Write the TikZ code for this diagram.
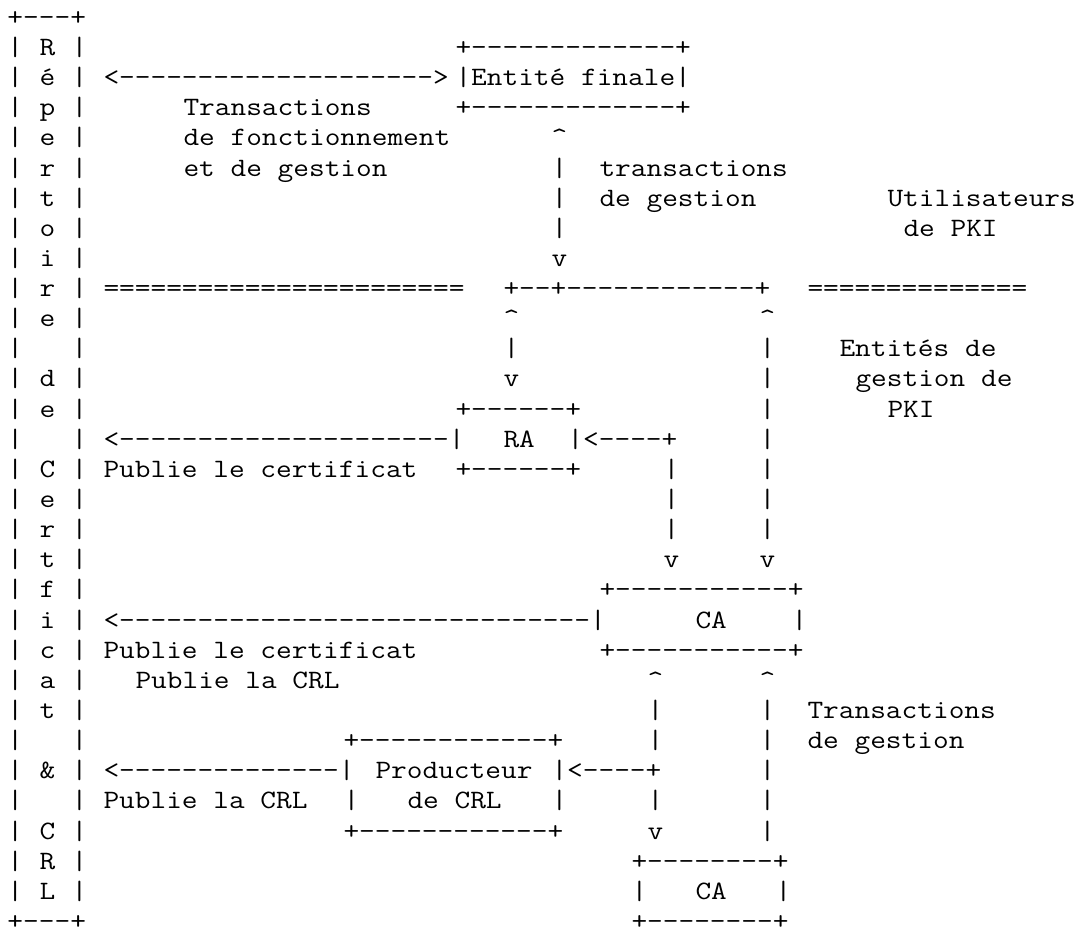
\documentclass[tikz,border=0pt]{standalone}
\usepackage{fontspec}
\ExplSyntaxOn
\cs_new:Npn \myrep #1#2 { \prg_replicate:nn {#1} {#2\kern0pt} }
\ExplSyntaxOff
\newcommand\upa{\char"5E\relax}
\tikzset{txt/.style={inner sep=0pt, outer sep=0pt, anchor=base west, text depth=0pt,
  font=\ttfamily\fontsize{26.5}{30}\selectfont, text=black}}
% #1 name, #2 column, #3 line, #4 text
\newcommand\asc[4]{\node[txt] (#1) at ({7.5+#2*16},{-(25.3+(#3-1)*30.14)}) {\scalebox{1.15}[1]{#4}};}
\begin{document}
\begin{tikzpicture}[x=1pt,y=1pt]
\fill[white] (0,0) rectangle (1080,-930);
\useasboundingbox (0,0) rectangle (1080,-930);
% Repertoire column
\asc{reptop}{0}{1}{+\myrep{3}{-}+}
\foreach \l in {2,...,30} {\asc{repl\l}{0}{\l}{|}\asc{repr\l}{4}{\l}{|}}
\foreach \l/\c in {2/R,3/é,4/p,5/e,6/r,7/t,8/o,9/i,10/r,11/e,13/d,14/e,16/C,17/e,18/r,19/t,20/f,21/i,22/c,23/a,24/t,26/\&,28/C,29/R,30/L}
  {\asc{repc\l}{2}{\l}{\c}}
\asc{repbot}{0}{31}{+\myrep{3}{-}+}
% Entite finale
\asc{efT}{28}{2}{+\myrep{13}{-}+}
\asc{a1}{6}{3}{<\myrep{20}{-}>}
\asc{ef}{28}{3}{|Entité~finale|}
\asc{efB}{28}{4}{+\myrep{13}{-}+}
\asc{tr1}{11}{4}{Transactions}
\asc{tr2}{11}{5}{de~fonctionnement}
\asc{tr3}{11}{6}{et~de~gestion}
\asc{up1}{34}{5}{\upa}
\foreach \l in {6,7,8} {\asc{va\l}{34}{\l}{|}}
\asc{dn1}{34}{9}{v}
\asc{tg1}{37}{6}{transactions}
\asc{tg2}{37}{7}{de~gestion}
\asc{u1}{55}{7}{Utilisateurs}
\asc{u2}{56}{8}{de~PKI}
% separator
\asc{eqL}{6}{10}{\myrep{23}{=}}
\asc{bar}{31}{10}{+\myrep{2}{-}+\myrep{12}{-}+}
\asc{eqR}{50}{10}{\myrep{14}{=}}
\asc{up2}{31}{11}{\upa}
\asc{up3}{47}{11}{\upa}
\asc{vb12}{31}{12}{|}
\asc{dn2}{31}{13}{v}
\foreach \l in {12,...,18} {\asc{vc\l}{47}{\l}{|}}
\asc{dn3}{47}{19}{v}
\asc{m1}{52}{12}{Entités~de}
\asc{m2}{53}{13}{gestion~de}
\asc{m3}{55}{14}{PKI}
% RA
\asc{raT}{28}{14}{+\myrep{6}{-}+}
\asc{a2}{6}{15}{<\myrep{21}{-}|}
\asc{ra}{31}{15}{RA}
\asc{raR}{35}{15}{|<\myrep{4}{-}+}
\asc{p1}{6}{16}{Publie~le~certificat}
\asc{raB}{28}{16}{+\myrep{6}{-}+}
\foreach \l in {16,17,18} {\asc{vd\l}{41}{\l}{|}}
\asc{dn4}{41}{19}{v}
% CA
\asc{caT}{37}{20}{+\myrep{11}{-}+}
\asc{a3}{6}{21}{<\myrep{30}{-}|}
\asc{ca}{43}{21}{CA}
\asc{caR}{49}{21}{|}
\asc{p2}{6}{22}{Publie~le~certificat}
\asc{caB}{37}{22}{+\myrep{11}{-}+}
\asc{p3}{8}{23}{Publie~la~CRL}
\asc{up4}{40}{23}{\upa}
\asc{up5}{47}{23}{\upa}
\foreach \l in {24,25,27} {\asc{ve\l}{40}{\l}{|}}
\asc{dn5}{40}{28}{v}
\foreach \l in {24,...,28} {\asc{vf\l}{47}{\l}{|}}
\asc{t1}{50}{24}{Transactions}
\asc{t2}{50}{25}{de~gestion}
% Producteur de CRL
\asc{crT}{21}{25}{+\myrep{12}{-}+}
\asc{a4}{6}{26}{<\myrep{14}{-}|}
\asc{cr1}{23}{26}{Producteur}
\asc{crR}{34}{26}{|<\myrep{4}{-}+}
\asc{p4}{6}{27}{Publie~la~CRL}
\asc{crL2}{21}{27}{|}
\asc{cr2}{25}{27}{de~CRL}
\asc{crR2}{34}{27}{|}
\asc{crB}{21}{28}{+\myrep{12}{-}+}
% CA 2
\asc{cbT}{39}{29}{+\myrep{8}{-}+}
\asc{cbL}{39}{30}{|}
\asc{cb}{43}{30}{CA}
\asc{cbR}{48}{30}{|}
\asc{cbB}{39}{31}{+\myrep{8}{-}+}
\end{tikzpicture}
\end{document}
